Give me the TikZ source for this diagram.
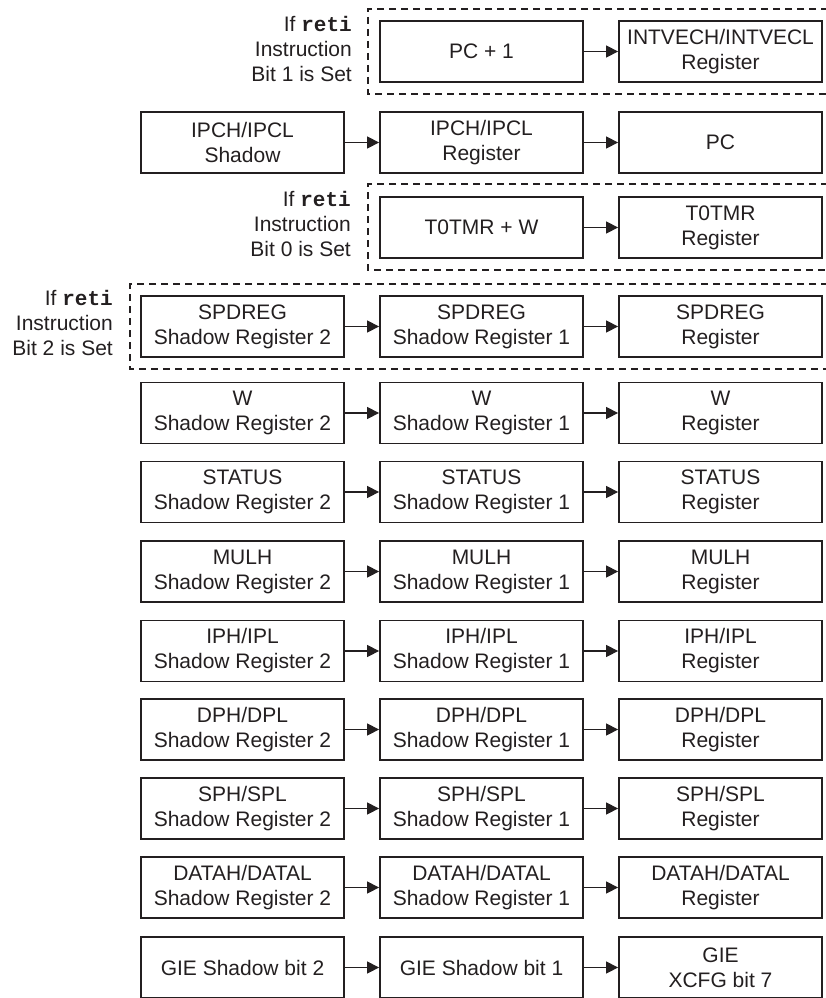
\documentclass[tikz,border=0pt]{standalone}
\usepackage{fontspec}
\setmainfont{Liberation Sans}
\setmonofont{Liberation Mono}
\usetikzlibrary{arrows.meta}
\definecolor{InkBlack}{HTML}{231F20}

\begin{document}
\begin{tikzpicture}[x=1pt,y=-1pt,>={Triangle[length=12pt,width=12pt]},
    regbox/.style={draw=InkBlack,line width=1.8pt,minimum width=203pt,minimum height=61pt,
      inner sep=0pt,align=center,text=InkBlack,font=\fontsize{21}{25}\selectfont},
    link/.style={->,InkBlack,line width=1.3pt},
    condframe/.style={InkBlack,line width=1.8pt,dash pattern=on 7pt off 5pt},
    condlabel/.style={anchor=east,align=right,inner sep=0pt,text=InkBlack,
      font=\fontsize{21}{25}\selectfont}]
  \useasboundingbox (0,0) rectangle (826,998);
  \clip (0,0) rectangle (826,998);
  % conditional frames, open to the right edge
  \draw[condframe] (840,9) -- (368,9) -- (368,94) -- (840,94);
  \draw[condframe] (840,184) -- (368,184) -- (368,270) -- (840,270);
  \draw[condframe] (840,284) -- (130,284) -- (130,369) -- (840,369);
  \node[condlabel] (bitone) at (352,49) {If \texttt{\textbf{reti}}\\Instruction\\Bit 1 is Set};
  \node[condlabel] (bitzero) at (351,224) {If \texttt{\textbf{reti}}\\Instruction\\Bit 0 is Set};
  \node[condlabel] (bittwo) at (113,323) {If \texttt{\textbf{reti}}\\Instruction\\Bit 2 is Set};
  % program counter rows
  \node[regbox] (pcinc) at (481.5,51.5) {PC + 1};
  \node[regbox] (intvec) at (720.5,51.5) {INTVECH/INTVECL\\Register};
  \node[regbox] (ipcshadow) at (242.5,142.5) {IPCH/IPCL\\Shadow};
  \node[regbox] (ipcreg) at (481.5,142.5) {IPCH/IPCL\\Register};
  \node[regbox] (pc) at (720.5,142.5) {PC};
  \node[regbox] (tmrsum) at (481.5,227.5) {T0TMR + W};
  \node[regbox] (tmrreg) at (720.5,227.5) {T0TMR\\Register};
  \draw[link] (pcinc) -- (intvec);
  \draw[link] (ipcshadow) -- (ipcreg);
  \draw[link] (ipcreg) -- (pc);
  \draw[link] (tmrsum) -- (tmrreg);
  % shadow register chains
  \foreach \reg/\y [count=\k] in {SPDREG/326.5,W/413,STATUS/492,MULH/571.5,
      {IPH/IPL}/651,{DPH/DPL}/729.5,{SPH/SPL}/808.5,{DATAH/DATAL}/887.5} {
    \node[regbox] (shtwo-\k) at (242.5,\y) {\reg\\Shadow Register 2};
    \node[regbox] (shone-\k) at (481.5,\y) {\reg\\Shadow Register 1};
    \node[regbox] (reg-\k) at (720.5,\y) {\reg\\Register};
    \draw[link] (shtwo-\k) -- (shone-\k);
    \draw[link] (shone-\k) -- (reg-\k);
  }
  \node[regbox] (giebittwo) at (242.5,967.5) {GIE Shadow bit 2};
  \node[regbox] (giebitone) at (481.5,967.5) {GIE Shadow bit 1};
  \node[regbox] (giecfg) at (720.5,967.5) {GIE\\XCFG bit 7};
  \draw[link] (giebittwo) -- (giebitone);
  \draw[link] (giebitone) -- (giecfg);
\end{tikzpicture}
\end{document}
